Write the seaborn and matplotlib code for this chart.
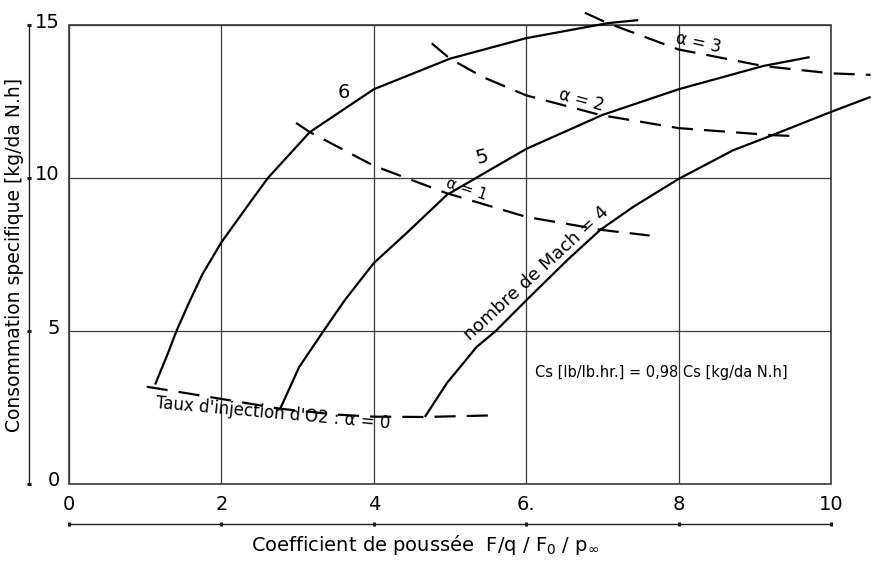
import matplotlib
matplotlib.use("Agg")
import matplotlib.pyplot as plt
import matplotlib.transforms as mtransforms
from matplotlib.patches import Rectangle
import seaborn as sns

# ---- data ----
mach6_x = [1.13, 1.30, 1.41, 1.57, 1.75, 2.00, 2.37, 2.61, 3.16, 4.00, 5.00, 6.00, 7.07, 7.47]
mach6_y = [3.25, 4.28, 5.00, 5.90, 6.85, 7.90, 9.18, 10.00, 11.50, 12.90, 13.90, 14.57, 15.06, 15.16]

mach5_x = [2.77, 3.02, 3.34, 3.62, 4.00, 4.43, 4.96, 6.00, 7.00, 8.00, 9.11, 9.72]
mach5_y = [2.45, 3.82, 5.00, 6.01, 7.22, 8.20, 9.45, 10.95, 12.06, 12.90, 13.66, 13.95]

mach4_x = [4.67, 4.96, 5.35, 5.60, 6.00, 6.54, 6.97, 7.40, 8.00, 8.71, 9.23, 10.00, 10.52]
mach4_y = [2.19, 3.30, 4.48, 5.00, 6.00, 7.32, 8.30, 9.05, 9.97, 10.90, 11.40, 12.16, 12.65]

alpha0_x = [1.02, 2.00, 2.77, 3.50, 4.00, 4.67, 5.52]
alpha0_y = [3.18, 2.78, 2.46, 2.27, 2.20, 2.19, 2.24]

alpha1_x = [2.98, 3.16, 4.00, 4.96, 6.00, 7.00, 7.62]
alpha1_y = [11.80, 11.50, 10.40, 9.50, 8.73, 8.30, 8.12]

alpha2_x = [4.76, 5.00, 5.43, 6.00, 6.97, 8.00, 9.23, 9.53]
alpha2_y = [14.40, 13.90, 13.30, 12.70, 12.06, 11.63, 11.40, 11.37]

alpha3_x = [6.77, 7.07, 8.00, 9.11, 10.00, 10.52]
alpha3_y = [15.40, 15.06, 14.20, 13.66, 13.42, 13.37]

x_ticks = [0, 2, 4, 6, 8, 10]
x_ticklabels = ["0", "2", "4", "6.", "8", "10"]
y_ticks = [0, 5, 10, 15]
y_ticklabels = ["0", "5", "10", "15"]

# ---- style ----
sns.set_theme(style="white")
plt.rcParams["font.family"] = ["DejaVu Sans"]
plt.rcParams["text.color"] = "black"
plt.rcParams["axes.labelcolor"] = "black"

fig = plt.figure(figsize=(8.71, 5.65), dpi=100)
ax = fig.add_axes([69 / 871, 1 - 484 / 565, 762 / 871, 459 / 565])
ax.set_facecolor("white")

solid_curves = [(mach6_x, mach6_y), (mach5_x, mach5_y), (mach4_x, mach4_y)]
dashed_curves = [(alpha0_x, alpha0_y), (alpha1_x, alpha1_y),
                 (alpha2_x, alpha2_y), (alpha3_x, alpha3_y)]

for xs, ys in solid_curves:
    sns.lineplot(x=xs, y=ys, sort=False, estimator=None, color="black",
                 linewidth=1.6, ax=ax)
    ln = ax.lines[-1]
    ln.set_clip_on(False)
    ln.set_solid_capstyle("butt")
    ln.set_solid_joinstyle("round")

for xs, ys in dashed_curves:
    sns.lineplot(x=xs, y=ys, sort=False, estimator=None, color="black",
                 linewidth=1.6, ax=ax)
    ln = ax.lines[-1]
    ln.set_clip_on(False)
    ln.set_dashes([9.5, 5.0])
    ln.set_dash_capstyle("butt")

ax.set_xlim(0, 10)
ax.set_ylim(0, 15)

ax.set_xticks(x_ticks)
ax.set_xticklabels(x_ticklabels)
ax.set_yticks(y_ticks)
ax.set_yticklabels(y_ticklabels)

# grid + frame
ax.grid(True, color="#3a3a3a", linewidth=0.9)
ax.set_axisbelow(True)
ax.add_patch(Rectangle((0, 0), 1, 1, transform=ax.transAxes, fill=False,
                       edgecolor="#3a3a3a", linewidth=1.2, clip_on=False,
                       zorder=0.5))

for s in ["top", "right"]:
    ax.spines[s].set_visible(False)
for s in ["left", "bottom"]:
    ax.spines[s].set_position(("outward", 28.8))
    ax.spines[s].set_color("#222222")
    ax.spines[s].set_linewidth(1.0)
ax.spines["left"].set_bounds(0, 15)
ax.spines["bottom"].set_bounds(0, 10)

ax.tick_params(axis="both", which="both", direction="inout", length=3,
               width=2.2, color="#111111", labelsize=14, labelcolor="black",
               bottom=True, left=True)
ax.tick_params(axis="y", pad=-23.8)
for lab in ax.get_xticklabels():
    lab.set_va("bottom")
ax.tick_params(axis="x", pad=-8.7)

offset = mtransforms.ScaledTranslation(0, 5 / 100, fig.dpi_scale_trans)
for lab in ax.get_yticklabels():
    lab.set_transform(lab.get_transform() + offset)

ax.set_xlabel("Coefficient de poussée  F/q / F$_0$ / p$_{\\infty}$", fontsize=14)
ax.xaxis.set_label_coords(0.467, -0.107)
ax.set_ylabel("Consommation specifique [kg/da N.h]", fontsize=13.5)
ax.yaxis.set_label_coords(-0.059, 0.5)

# ---- annotations ----
ax.text(3.61, 12.81, "6", fontsize=14, ha="center", va="center")
ax.text(5.42, 10.69, "5", fontsize=14, ha="center", va="center", rotation=15)
ax.text(5.22, 9.62, "α = 1", fontsize=11, ha="center", va="center", rotation=-18)
ax.text(6.72, 12.55, "α = 2", fontsize=12, ha="center", va="center", rotation=-15)
ax.text(8.26, 14.42, "α = 3", fontsize=12, ha="center", va="center", rotation=-12)
ax.text(6.13, 6.88, "nombre de Mach = 4", fontsize=13, ha="center",
        va="center", rotation=42.5)
ax.text(1.15, 2.95, "Taux d'injection d'O2 : α = 0", fontsize=12, ha="left",
        va="top", rotation=-5, rotation_mode="anchor")
ax.text(6.12, 3.66, "Cs [lb/lb.hr.] = 0,98 Cs [kg/da N.h]", fontsize=10.5,
        ha="left", va="center")

fig.savefig("out.png", dpi=100, facecolor="white")
